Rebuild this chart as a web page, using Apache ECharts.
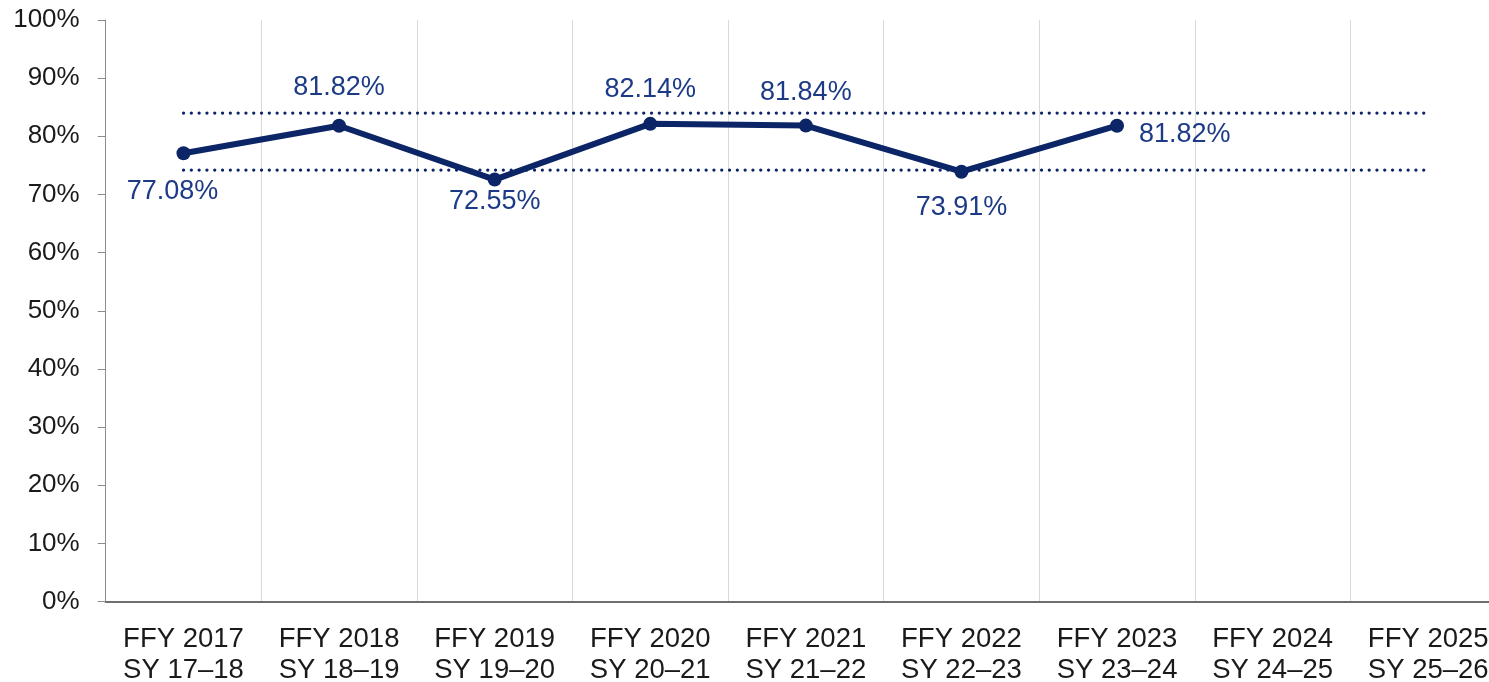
<!DOCTYPE html>
<html>
<head>
<meta charset="utf-8">
<script src="https://cdn.jsdelivr.net/npm/echarts@6/dist/echarts.min.js"></script>
<style>
  html, body { margin: 0; padding: 0; background: #fff; overflow: hidden; width: 1489px; height: 682px; }
  /* plot runs past the right edge of the window, like the reference */
  #chart { width: 1506px; height: 682px; }
</style>
</head>
<body>
<div id="chart"></div>
<script>
// categories (two-line labels)
const years = ['FFY 2017\nSY 17–18', 'FFY 2018\nSY 18–19', 'FFY 2019\nSY 19–20', 'FFY 2020\nSY 20–21',
  'FFY 2021\nSY 21–22', 'FFY 2022\nSY 22–23', 'FFY 2023\nSY 23–24', 'FFY 2024\nSY 24–25', 'FFY 2025\nSY 25–26']
// rate per year (%), no data yet for the last two
const rates = [77.08, 81.82, 72.55, 82.14, 81.84, 73.91, 81.82, null, null]
// dotted upper / lower bands
const upperBand = [84.0, 84.0, 84.0, 84.0, 84.0, 84.0, 84.0, 84.0, 84.0]
const lowerBand = [74.2, 74.2, 74.2, 74.2, 74.2, 74.2, 74.2, 74.2, 74.2]
// where each value label sits
const labelPos = ['bottom', 'top', 'bottom', 'top', 'top', 'bottom', 'right', 'top', 'top']

const navy = '#0b2566'
const labelColor = '#1c3a85'
const font = '"Liberation Sans", Arial, sans-serif'

const labelTweaks = {
  bottom: { distance: 17 },
  top: { distance: 18 },
  right: { distance: 15, offset: [0, 9] }
}

const lineData = rates.map((v, i) => {
  if (v == null) return v
  const pos = labelPos[i]
  const extra = Object.assign({}, labelTweaks[pos])
  if (i === 0) extra.offset = [-11, 1]
  if (i === 2) extra.distance = 1
  if (i === 3) extra.distance = 14
  if (i === 4) extra.distance = 13
  if (i === 5) extra.distance = 15
  return { value: v, label: Object.assign({ position: pos }, extra) }
})

const chart = echarts.init(document.getElementById('chart'))

const bandStyle = {
  color: navy,
  width: 3.2,
  type: [0.1, 7.7],
  cap: 'round'
}

chart.setOption({
  animation: false,
  backgroundColor: '#fff',
  grid: { left: 105.7, right: 0, top: 20, bottom: 80.5, outerBoundsMode: 'none', containLabel: false },
  xAxis: {
    type: 'category',
    data: years,
    boundaryGap: true,
    axisLine: { lineStyle: { color: '#6e6e6e', width: 2 } },
    axisTick: { show: false },
    axisLabel: {
      color: '#1a1a1a',
      fontFamily: font,
      fontSize: 27.5,
      lineHeight: 31,
      margin: 22,
      interval: 0
    },
    splitLine: { show: true, lineStyle: { color: '#d9d9d9', width: 1 } }
  },
  yAxis: {
    type: 'value',
    min: 0,
    max: 100,
    interval: 10,
    axisLine: { show: true, lineStyle: { color: '#8c8c8c', width: 1 } },
    axisTick: { show: true, length: 8, lineStyle: { color: '#8c8c8c' } },
    axisLabel: {
      color: '#1a1a1a',
      fontFamily: font,
      fontSize: 26,
      margin: 26,
      formatter: '{value}%'
    },
    splitLine: { show: false }
  },
  series: [
    {
      name: 'upper',
      type: 'line',
      data: upperBand,
      symbol: 'none',
      lineStyle: bandStyle,
      silent: true,
      z: 1
    },
    {
      name: 'lower',
      type: 'line',
      data: lowerBand,
      symbol: 'none',
      lineStyle: bandStyle,
      silent: true,
      z: 1
    },
    {
      name: 'rate',
      type: 'line',
      data: lineData,
      symbol: 'circle',
      symbolSize: 14,
      itemStyle: { color: navy },
      lineStyle: { color: navy, width: 6 },
      label: {
        show: true,
        color: labelColor,
        fontFamily: font,
        fontSize: 27,
        formatter: p => p.value.toFixed(2) + '%'
      },
      z: 3
    }
  ]
})
</script>
</body>
</html>
